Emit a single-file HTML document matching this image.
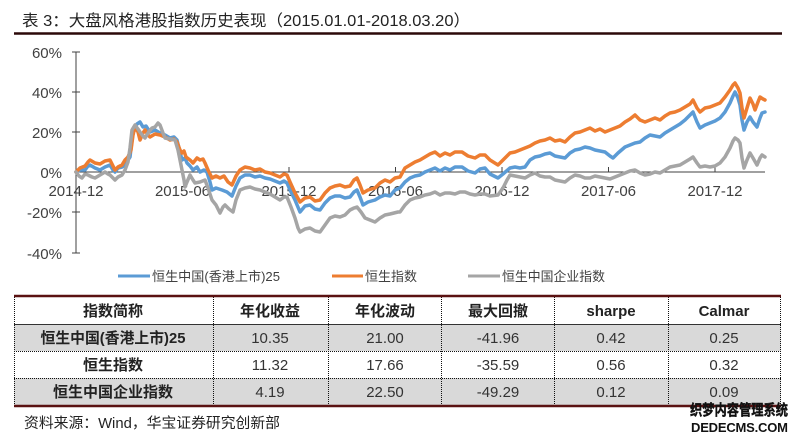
<!DOCTYPE html>
<html><head><meta charset="utf-8"><style>
html,body{margin:0;padding:0;background:#fff;width:800px;height:437px;overflow:hidden}
svg{display:block}
text{font-family:"Liberation Sans","Noto Sans CJK SC",sans-serif}
.ax{font-size:15px;fill:#404040}
.lg{font-size:13px;fill:#404040}
.th{font-size:15px;font-weight:bold;fill:#222}
.td{font-size:15px;fill:#333}
</style></head><body>
<svg width="800" height="437" viewBox="0 0 800 437" xmlns="http://www.w3.org/2000/svg">
<rect width="800" height="437" fill="#fff"/>
<!-- Title -->
<text x="22" y="26" font-size="16" fill="#222" textLength="448" lengthAdjust="spacingAndGlyphs">表 3：大盘风格港股指数历史表现（2015.01.01-2018.03.20）</text>
<line x1="14" y1="33.5" x2="782" y2="33.5" stroke="#2b0808" stroke-width="2.5"/>

<!-- Axes -->
<line x1="76" y1="52" x2="76" y2="253" stroke="#404040" stroke-width="1"/>
<g stroke="#404040" stroke-width="1">
<line x1="72" y1="52" x2="80" y2="52"/>
<line x1="72" y1="92" x2="80" y2="92"/>
<line x1="72" y1="132" x2="80" y2="132"/>
<line x1="72" y1="212" x2="80" y2="212"/>
<line x1="72" y1="253" x2="80" y2="253"/>
<line x1="76" y1="172" x2="765" y2="172"/>
<line x1="182.5" y1="167" x2="182.5" y2="172"/>
<line x1="289" y1="167" x2="289" y2="172"/>
<line x1="395.5" y1="167" x2="395.5" y2="172"/>
<line x1="502" y1="167" x2="502" y2="172"/>
<line x1="608.5" y1="167" x2="608.5" y2="172"/>
<line x1="715" y1="167" x2="715" y2="172"/>
</g>
<g class="ax" text-anchor="end">
<text x="62" y="58">60%</text>
<text x="62" y="98">40%</text>
<text x="62" y="138">20%</text>
<text x="62" y="178">0%</text>
<text x="62" y="218">-20%</text>
<text x="62" y="259">-40%</text>
</g>
<g class="ax" text-anchor="middle">
<text x="76" y="196">2014-12</text>
<text x="182.5" y="196">2015-06</text>
<text x="289" y="196">2015-12</text>
<text x="395.5" y="196">2016-06</text>
<text x="502" y="196">2016-12</text>
<text x="608.5" y="196">2017-06</text>
<text x="715" y="196">2017-12</text>
</g>

<!-- Series -->
<g fill="none" stroke-width="3.5" stroke-linejoin="round" stroke-linecap="round">
<polyline stroke="#5b9bd5" points="76,172 80,170 85,170 88,166 90,165 95,168 100,170 105,167 110,165 113,170 115,172 118,168 122,167 125,165 128,160 130,157 132,140 134,128 137,124 140,122 143,127 146,126 150,132 155,130 160,133 165,135 170,138 174,137 177,140 180,152 182,160 185,158 187,163 190,166 193,170 197,167 200,172 204,170 207,172 210,182 212,190 216,188 222,190 227,192 232,196 236,186 240,178 245,175 250,175 255,177 260,176 265,178 270,179 275,181 280,183 284,181 287,183 291,192 295,200 300,212 305,206 310,205 315,209 320,210 325,203 330,198 335,196 340,196 345,198 350,197 354,192 357,190 360,197 363,205 368,202 375,200 380,197 385,195 390,196 395,190 400,188 405,182 410,178 415,176 420,175 425,172 430,170 435,168 440,171 445,168 450,170 455,167 462,167 468,171 475,173 480,169 485,168 490,174 498,178 503,174 510,168 515,167 520,168 525,167 530,160 535,157 540,156 545,154 550,153 555,156 560,157 565,158 570,153 575,150 580,149 585,147 590,148 595,150 600,151 605,152 610,156 613,158 618,153 625,147 630,145 635,143 640,142 645,138 650,135 655,136 660,137 665,133 670,130 675,127 680,124 685,120 690,115 693,112 697,122 700,128 705,125 710,123 715,121 720,118 725,112 730,103 733,96 735,92 738,98 740,105 742,120 744,130 747,122 750,117 753,122 757,127 760,118 762,113 765,112"/>
<polyline stroke="#ed7d31" points="76,172 80,168 85,166 88,162 90,160 95,163 100,164 105,161 110,160 113,166 115,170 118,167 122,165 125,160 128,157 131,150 133,135 135,127 138,132 140,140 143,133 145,130 148,135 150,137 155,134 160,135 165,137 170,140 174,139 177,142 180,150 182,153 184,151 186,157 190,160 193,163 197,158 200,160 203,159 205,163 208,170 212,178 216,176 220,178 224,176 228,182 232,185 236,176 240,170 245,167 250,168 255,170 260,169 265,172 270,173 275,175 280,177 284,174 287,175 290,182 295,193 300,202 305,198 310,197 315,201 320,200 325,193 330,188 335,186 340,185 345,187 350,186 354,180 357,178 360,185 363,193 368,190 375,188 380,183 385,180 390,182 395,178 400,177 405,168 410,165 415,162 420,160 425,157 430,154 435,152 440,156 445,153 450,155 455,152 462,152 468,156 475,158 480,155 485,155 490,160 498,165 503,160 510,153 515,152 520,150 525,148 530,146 535,143 540,141 545,140 550,138 555,141 560,140 565,142 570,137 575,133 580,132 585,130 590,128 595,131 600,129 605,132 610,130 615,128 620,126 625,122 630,119 635,115 640,120 645,122 650,120 655,118 660,120 665,116 670,113 675,112 680,110 685,107 690,104 693,100 697,108 700,112 705,108 710,107 715,105 720,103 725,97 730,90 733,85 735,83 738,88 740,93 742,108 744,118 747,108 750,98 753,104 755,110 758,102 760,97 763,99 765,100"/>
<polyline stroke="#a5a5a5" points="76,172 79,176 82,178 85,174 88,175 92,177 95,178 100,175 105,172 108,174 110,175 113,178 115,180 118,177 122,175 125,170 128,162 130,148 132,130 135,125 138,129 140,132 143,136 145,138 148,133 152,128 155,127 158,123 160,125 163,133 165,138 170,139 175,140 178,150 182,170 184,180 185,187 187,182 190,175 193,180 195,183 200,182 205,180 208,188 212,200 216,205 220,213 223,207 225,205 229,209 233,212 236,200 240,190 245,188 250,187 255,189 260,190 265,192 270,194 275,197 280,200 284,197 287,197 291,207 295,218 298,228 300,232 305,229 310,228 315,231 320,232 325,225 330,218 335,216 340,217 345,215 350,210 354,208 357,207 361,212 365,218 370,220 375,222 380,218 385,215 390,214 398,212 400,212 405,205 410,200 415,198 420,197 425,195 430,194 435,192 440,195 445,193 450,193 455,194 460,192 465,192 470,194 475,195 480,194 485,194 490,196 498,195 503,188 507,180 510,175 515,176 520,177 525,178 530,175 535,173 540,176 545,177 550,177 555,180 560,181 565,182 570,178 575,175 580,176 585,178 590,178 595,176 600,177 605,178 610,179 615,177 620,175 625,173 630,171 635,170 640,173 645,175 650,174 655,172 660,173 665,170 670,167 675,166 680,165 685,162 690,159 693,157 697,163 700,167 705,166 710,167 715,166 720,163 725,157 730,148 733,141 735,138 738,140 740,143 742,158 744,168 747,160 750,153 753,158 757,165 760,158 762,155 765,157"/>
</g>

<!-- Legend -->
<g stroke-width="3">
<line x1="118" y1="276" x2="150" y2="276" stroke="#5b9bd5"/>
<line x1="332" y1="276" x2="363" y2="276" stroke="#ed7d31"/>
<line x1="468" y1="276" x2="500" y2="276" stroke="#a5a5a5"/>
</g>
<g class="lg">
<text x="152" y="281" textLength="128" lengthAdjust="spacingAndGlyphs">恒生中国(香港上市)25</text>
<text x="365" y="281" textLength="52" lengthAdjust="spacingAndGlyphs">恒生指数</text>
<text x="502" y="281" textLength="103" lengthAdjust="spacingAndGlyphs">恒生中国企业指数</text>
</g>

<!-- Table -->
<rect x="14" y="324" width="767" height="27" fill="#d9d9d9"/>
<rect x="14" y="378" width="767" height="27" fill="#d9d9d9"/>
<g stroke="#111" stroke-width="1" stroke-dasharray="1,1" fill="none">
<line x1="14.5" y1="297" x2="14.5" y2="405"/>
<line x1="213.5" y1="297" x2="213.5" y2="405"/>
<line x1="328.5" y1="297" x2="328.5" y2="405"/>
<line x1="441.5" y1="297" x2="441.5" y2="405"/>
<line x1="554.5" y1="297" x2="554.5" y2="405"/>
<line x1="668.5" y1="297" x2="668.5" y2="405"/>
<line x1="780.5" y1="297" x2="780.5" y2="405"/>
<line x1="14" y1="351.5" x2="781" y2="351.5"/>
<line x1="14" y1="378.5" x2="781" y2="378.5"/>
</g>
<line x1="14" y1="324.5" x2="781" y2="324.5" stroke="#333" stroke-width="1"/>
<line x1="14" y1="296" x2="781" y2="296" stroke="#5a1212" stroke-width="2.5"/>
<line x1="14" y1="406" x2="781" y2="406" stroke="#5a1212" stroke-width="2.5"/>

<g text-anchor="middle">
<text class="th" x="113" y="316">指数简称</text>
<text class="th" x="270" y="316">年化收益</text>
<text class="th" x="385" y="316">年化波动</text>
<text class="th" x="498" y="316">最大回撤</text>
<text class="th" x="611" y="316">sharpe</text>
<text class="th" x="724" y="316">Calmar</text>

<text class="th" x="113" y="343" textLength="145" lengthAdjust="spacingAndGlyphs">恒生中国(香港上市)25</text>
<text class="td" x="270" y="343">10.35</text>
<text class="td" x="385" y="343">21.00</text>
<text class="td" x="498" y="343">-41.96</text>
<text class="td" x="611" y="343">0.42</text>
<text class="td" x="724" y="343">0.25</text>

<text class="th" x="113" y="370">恒生指数</text>
<text class="td" x="270" y="370">11.32</text>
<text class="td" x="385" y="370">17.66</text>
<text class="td" x="498" y="370">-35.59</text>
<text class="td" x="611" y="370">0.56</text>
<text class="td" x="724" y="370">0.32</text>

<text class="th" x="113" y="397">恒生中国企业指数</text>
<text class="td" x="270" y="397">4.19</text>
<text class="td" x="385" y="397">22.50</text>
<text class="td" x="498" y="397">-49.29</text>
<text class="td" x="611" y="397">0.12</text>
<text class="td" x="724" y="397">0.09</text>
</g>

<!-- Footer -->
<text x="24" y="428" font-size="14.5" fill="#222" textLength="256" lengthAdjust="spacingAndGlyphs">资料来源：Wind，华宝证券研究创新部</text>

<!-- Watermark -->
<text x="690" y="415" font-size="15" font-weight="bold" fill="#111" stroke="#111" stroke-width="0.4" textLength="98" lengthAdjust="spacingAndGlyphs">织梦内容管理系统</text>
<text x="691" y="432" font-size="13" font-weight="bold" fill="#111" textLength="97" lengthAdjust="spacing">DEDECMS.COM</text>
</svg>
</body></html>
